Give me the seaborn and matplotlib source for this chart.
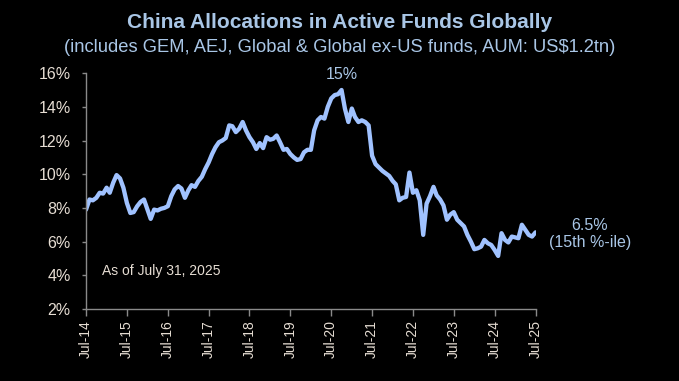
import numpy as np
import pandas as pd
import seaborn as sns
import matplotlib.pyplot as plt
import matplotlib.dates as mdates
from matplotlib.ticker import FuncFormatter

# monthly China allocation (%), Jul-2014 .. Jul-2025
alloc_2014_2016 = [7.9, 8.5, 8.45, 8.6, 8.9, 8.85, 9.2, 8.9, 9.5, 9.95, 9.75, 9.2,
                   8.3, 7.7, 7.75, 8.1, 8.35, 8.5, 7.9, 7.35, 7.9, 7.85, 7.95, 8.0]
alloc_2016_2018 = [8.1, 8.7, 9.1, 9.3, 9.15, 8.6, 9.05, 9.35, 9.25, 9.6, 9.85, 10.3,
                   10.7, 11.2, 11.6, 11.9, 12.0, 12.15, 12.9, 12.85, 12.5, 12.7, 13.1, 12.6]
alloc_2018_2020 = [12.2, 11.9, 11.5, 11.85, 11.55, 12.2, 12.05, 12.1, 12.3, 11.9, 11.45, 11.5,
                   11.2, 11.0, 10.85, 10.9, 11.3, 11.45, 11.45, 12.6, 13.2, 13.4, 13.3, 14.0]
alloc_2020_2022 = [14.5, 14.7, 14.75, 15.0, 13.9, 13.1, 13.9, 13.4, 13.1, 13.2, 13.1, 12.9,
                   11.1, 10.6, 10.4, 10.2, 10.05, 9.9, 9.6, 9.4, 8.45, 8.6, 8.65, 10.1]
alloc_2022_2024 = [8.9, 9.05, 8.45, 6.4, 8.25, 8.7, 9.25, 8.75, 8.5, 8.15, 7.3, 7.6,
                   7.75, 7.3, 7.1, 6.9, 6.4, 6.0, 5.55, 5.6, 5.7, 6.1, 5.9, 5.8]
alloc_2024_2025 = [5.5, 5.15, 6.5, 6.1, 5.95, 6.3, 6.25, 6.2, 7.0, 6.7, 6.4, 6.3, 6.55]

allocation = (alloc_2014_2016 + alloc_2016_2018 + alloc_2018_2020
              + alloc_2020_2022 + alloc_2022_2024 + alloc_2024_2025)
dates = pd.date_range("2014-07-31", periods=len(allocation), freq="ME")

y_ticks = [2, 4, 6, 8, 10, 12, 14, 16]
tick_years = list(range(2014, 2026))

title = "China Allocations in Active Funds Globally"
subtitle = "(includes GEM, AEJ, Global & Global ex-US funds, AUM: US$1.2tn)"
peak_label = "15%"
last_label = "6.5%\n(15th %-ile)"
as_of = "As of July 31, 2025"

df = pd.DataFrame({"date": dates, "alloc": allocation})

sns.set_theme(style="dark", rc={"axes.facecolor": "black", "figure.facecolor": "black"})
plt.rcParams["font.family"] = ["Liberation Sans", "DejaVu Sans"]

line_col = "#a0c2ff"
txt_col = "#e6ddd3"
blue_txt = "#a9c6e6"
spine_col = "#8a8a8a"

fig = plt.figure(figsize=(6.79, 3.81), dpi=100)
ax = fig.add_axes([0.1267, 0.189, 0.662, 0.619])

sns.lineplot(data=df, x="date", y="alloc", ax=ax, color=line_col, linewidth=3.1)

ax.set_ylim(2, 16)
ax.set_yticks(y_ticks)
ax.yaxis.set_major_formatter(FuncFormatter(lambda v, p: f"{v:.0f}%"))
ax.set_xlim(pd.Timestamp("2014-07-31"), pd.Timestamp("2025-07-31"))
ax.set_xticks([pd.Timestamp(f"{y}-07-31") for y in tick_years])
ax.xaxis.set_major_formatter(mdates.DateFormatter("%b-%y"))
ax.set_xlabel("")
ax.set_ylabel("")
ax.grid(False)

for s in ["top", "right"]:
    ax.spines[s].set_visible(False)
for s in ["left", "bottom"]:
    ax.spines[s].set_visible(True)
    ax.spines[s].set_color(spine_col)
    ax.spines[s].set_linewidth(1.0)

ax.tick_params(axis="x", which="major", direction="out", length=5, width=1,
               color=spine_col, labelcolor=txt_col, labelsize=10, rotation=90, bottom=True, pad=3)
ax.tick_params(axis="y", which="major", direction="out", length=3, width=1,
               color=spine_col, labelcolor=txt_col, labelsize=11.5, left=True, pad=8)

fig.text(0.5, 0.942, title, ha="center", va="center", color=blue_txt,
         fontsize=15, fontweight="bold")
fig.text(0.5, 0.876, subtitle, ha="center", va="center", color=blue_txt, fontsize=13.2)

peak_i = int(np.argmax(allocation))
ax.annotate(peak_label, (dates[peak_i], allocation[peak_i]), xytext=(0, 6),
            textcoords="offset points", ha="center", va="bottom", color=blue_txt, fontsize=11.5)
ax.annotate(last_label, (dates[-1], allocation[-1]), xytext=(39, -1),
            textcoords="offset points", ha="center", va="center", color=blue_txt,
            fontsize=11.5, linespacing=1.2, annotation_clip=False)
ax.text(0.035, 0.16, as_of, transform=ax.transAxes, color=txt_col, fontsize=10, va="center")

fig.savefig("out.png", dpi=100, facecolor="black")
